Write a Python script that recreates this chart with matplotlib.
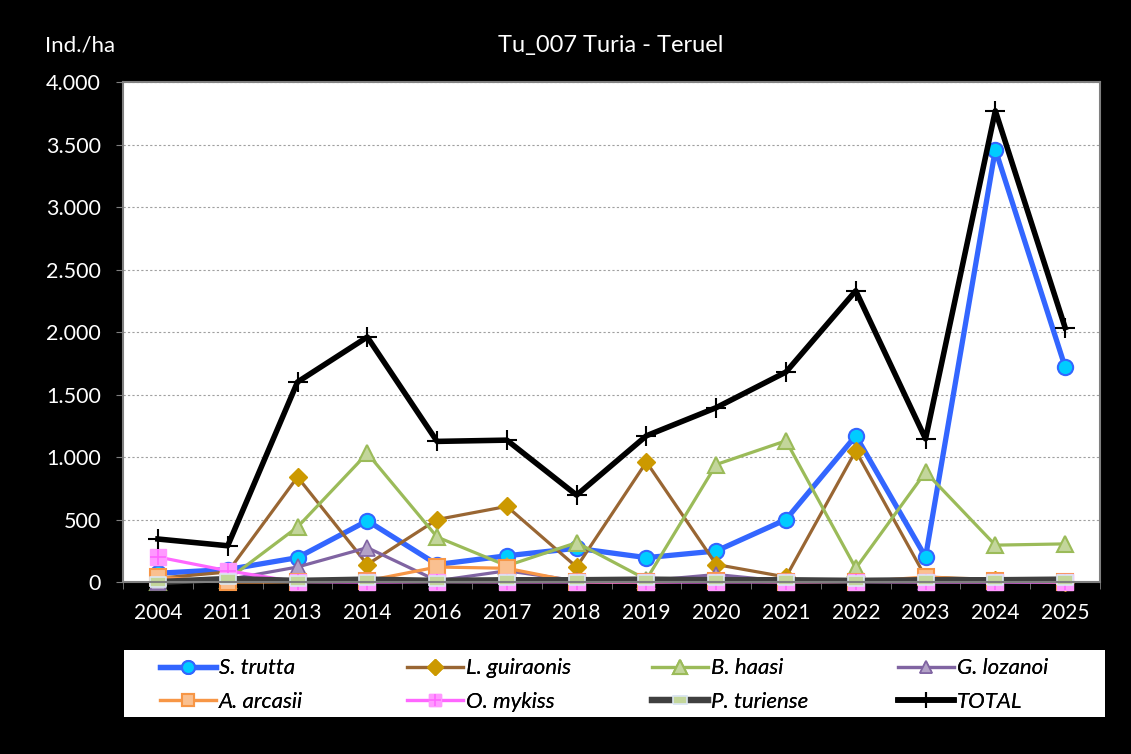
import matplotlib.pyplot as plt
from matplotlib.ticker import FuncFormatter, FixedLocator
from matplotlib.legend_handler import HandlerTuple
from matplotlib.patches import Rectangle

plt.rcParams['font.family'] = ['Lato', 'DejaVu Sans']

years = ['2004', '2011', '2013', '2014', '2016', '2017', '2018',
         '2019', '2020', '2021', '2022', '2023', '2024', '2025']

s_trutta = [70, 100, 195, 490, 140, 210, 270, 195, 248, 500, 1170, 200, 3460, 1720]
l_guiraonis = [30, 80, 840, 140, 500, 605, 120, 960, 140, 40, 1050, 40, 20, 0]
b_haasi = [0, 20, 440, 1030, 360, 130, 315, 20, 940, 1130, 110, 880, 295, 305]
g_lozanoi = [0, 20, 120, 275, 10, 90, 10, 10, 60, 5, 0, 0, 0, 0]
a_arcasii = [40, 0, 0, 10, 120, 110, 0, 0, 10, 0, 0, 40, 10, 0]
o_mykiss = [200, 90, 0, 0, 0, 0, 0, 0, 0, 0, 0, 0, 0, 0]
p_turiense = [0, 25, 10, 20, 10, 15, 15, 20, 15, 15, 10, 15, 15, 20]
total = [344, 290, 1600, 1960, 1125, 1135, 695, 1170, 1395, 1680, 2330, 1145, 3770, 2035]

fig = plt.figure(figsize=(11.31, 7.54), dpi=100, facecolor='black')
ax = fig.add_axes([0.1088, 0.2281, 0.8638, 0.6631])
ax.set_facecolor('white')

x = list(range(len(years)))
kw = dict(clip_on=False)

h1, = ax.plot(x, s_trutta, color='#3366FF', lw=3.8, marker='o', ms=11,
              mfc='#00CCFF', mec='#3366FF', mew=1.5, **kw)
h2, = ax.plot(x, l_guiraonis, color='#996633', lw=2.3, marker='D', ms=9,
              mfc='#CC9900', mec='#CC9900', **kw)
h3, = ax.plot(x, b_haasi, color='#9BBB59', lw=2.3, marker='^', ms=12,
              mfc='#C3D69B', mec='#9BBB59', mew=1.5, **kw)
h4, = ax.plot(x, g_lozanoi, color='#8064A2', lw=2.3, marker='^', ms=11,
              mfc='#B3A2C7', mec='#8064A2', mew=1.2, **kw)
h5, = ax.plot(x, a_arcasii, color='#F79646', lw=2.3, marker='s', ms=11,
              mfc='#FAC090', mec='#F79646', mew=1.5, **kw)
h6, = ax.plot(x, o_mykiss, color='#FF66FF', lw=2.3, marker='s', ms=11,
              mfc='#FF99FF', mec='#FF99FF', **kw)
h6b, = ax.plot(x, o_mykiss, ls='none', marker='+', ms=11, mew=1.2,
               mec='#FF66FF', **kw)
rect = [(-1.8, -1), (1.8, -1), (1.8, 1), (-1.8, 1), (-1.8, -1)]
h7, = ax.plot(x, p_turiense, color='#404040', lw=4.5, marker=rect, ms=12,
              mfc='#C3D69B', mec='#DCE6F2', mew=1.2, **kw)
h8, = ax.plot(x, total, color='black', lw=4, marker='+', ms=14, mew=1.5,
              mec='black', **kw)

ax.set_xlim(-0.5, len(years) - 0.5)
ax.set_ylim(0, 4000)
ax.set_yticks(range(0, 4001, 500))
ax.yaxis.set_major_formatter(FuncFormatter(lambda v, p: f"{int(v):,}".replace(",", ".")))
ax.set_xticks(x)
ax.set_xticklabels(years)
ax.xaxis.set_minor_locator(FixedLocator([i - 0.5 for i in range(len(years) + 1)]))
ax.tick_params(axis='x', which='major', length=0, pad=15, colors='white', labelsize=15)
ax.tick_params(axis='x', which='minor', length=5, color='#808080', direction='out')
ax.tick_params(axis='y', length=5, color='#808080', colors='white', labelsize=15.5, pad=11)
ax.yaxis.grid(True, color='#A0A0A0', ls=(0, (2, 2)), lw=0.8)
ax.set_axisbelow(True)
for sp in ax.spines.values():
    sp.set_color('#808080')
    sp.set_linewidth(1.5)

fig.text(0.540, 0.94, 'Tu_007 Turia - Teruel', color='white', ha='center', va='center', fontsize=17)
fig.text(0.04, 0.94, 'Ind./ha', color='white', ha='left', va='center', fontsize=16)

# legend: white box with four columns
fig.patches.append(Rectangle((124 / 1131, 37 / 754), 981 / 1131, 67 / 754,
                             transform=fig.transFigure, facecolor='white',
                             edgecolor='none', zorder=0))
columns = [
    ([h1, h5], ['S. trutta', 'A. arcasii'], 0.1415),
    ([h2, (h6, h6b)], ['L. guiraonis', 'O. mykiss'], 0.3599),
    ([h3, h7], ['B. haasi', 'P. turiense'], 0.5765),
    ([h4, h8], ['G. lozanoi', 'TOTAL'], 0.7940),
]
for hs, ls, xpos in columns:
    leg = fig.legend(hs, ls, loc='center left', bbox_to_anchor=(xpos, 0.0915),
                     handler_map={tuple: HandlerTuple(ndivide=1)},
                     frameon=False, borderpad=0, borderaxespad=0,
                     handlelength=2.5, handletextpad=0.15, labelspacing=0.6,
                     markerscale=0.85, prop={'style': 'italic', 'size': 16})
    fig.add_artist(leg)

fig.savefig('out.png', dpi=100, facecolor='black')
